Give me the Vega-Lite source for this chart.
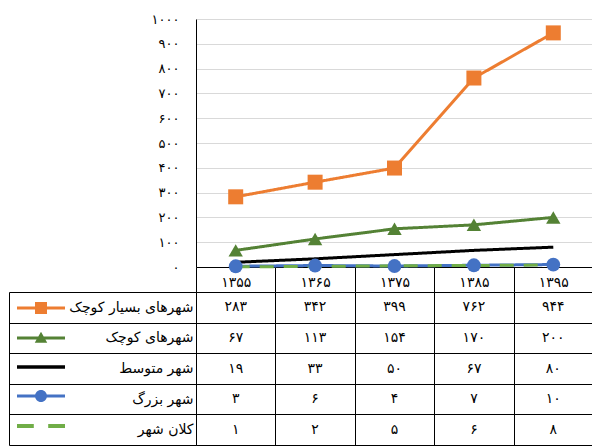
{
  "$schema": "https://vega.github.io/schema/vega-lite/v6.json",
  "padding": {"left": 8, "top": 13, "right": 0, "bottom": 0},
  "bounds": "flush",
  "spacing": 25,
  "config": {
    "locale": {"number": {"decimal": ".", "thousands": ",", "grouping": [3], "currency": ["", ""], "numerals": ["۰","۱","۲","۳","۴","۵","۶","۷","۸","۹"]}},
    "view": {"stroke": null},
    "font": "DejaVu Sans"
  },
  "datasets": {
    "table": [
      {"series": "شهرهای بسیار کوچک", "year": "۱۳۵۵", "value": 283},
      {"series": "شهرهای بسیار کوچک", "year": "۱۳۶۵", "value": 342},
      {"series": "شهرهای بسیار کوچک", "year": "۱۳۷۵", "value": 399},
      {"series": "شهرهای بسیار کوچک", "year": "۱۳۸۵", "value": 762},
      {"series": "شهرهای بسیار کوچک", "year": "۱۳۹۵", "value": 944},
      {"series": "شهرهای کوچک", "year": "۱۳۵۵", "value": 67},
      {"series": "شهرهای کوچک", "year": "۱۳۶۵", "value": 113},
      {"series": "شهرهای کوچک", "year": "۱۳۷۵", "value": 154},
      {"series": "شهرهای کوچک", "year": "۱۳۸۵", "value": 170},
      {"series": "شهرهای کوچک", "year": "۱۳۹۵", "value": 200},
      {"series": "شهر متوسط", "year": "۱۳۵۵", "value": 19},
      {"series": "شهر متوسط", "year": "۱۳۶۵", "value": 33},
      {"series": "شهر متوسط", "year": "۱۳۷۵", "value": 50},
      {"series": "شهر متوسط", "year": "۱۳۸۵", "value": 67},
      {"series": "شهر متوسط", "year": "۱۳۹۵", "value": 80},
      {"series": "شهر بزرگ", "year": "۱۳۵۵", "value": 3},
      {"series": "شهر بزرگ", "year": "۱۳۶۵", "value": 6},
      {"series": "شهر بزرگ", "year": "۱۳۷۵", "value": 4},
      {"series": "شهر بزرگ", "year": "۱۳۸۵", "value": 7},
      {"series": "شهر بزرگ", "year": "۱۳۹۵", "value": 10},
      {"series": "کلان شهر", "year": "۱۳۵۵", "value": 1},
      {"series": "کلان شهر", "year": "۱۳۶۵", "value": 2},
      {"series": "کلان شهر", "year": "۱۳۷۵", "value": 5},
      {"series": "کلان شهر", "year": "۱۳۸۵", "value": 6},
      {"series": "کلان شهر", "year": "۱۳۹۵", "value": 8}
    ]
  },
  "resolve": {"scale": {"color": "independent", "shape": "independent", "size": "independent", "strokeDash": "independent"}, "legend": {"color": "independent", "shape": "independent"}},
  "vconcat": [
    {
      "width": 397,
      "height": 248,
      "data": {"name": "table"},
      "encoding": {
        "x": {"field": "year", "type": "ordinal", "bandPosition": 0.5,
          "scale": {"type": "band", "paddingInner": 0, "paddingOuter": 0, "domain": ["۱۳۵۵","۱۳۶۵","۱۳۷۵","۱۳۸۵","۱۳۹۵"]},
          "axis": {"title": null, "orient": "bottom", "tickBand": "extent", "tickSize": 25, "tickColor": "#000", "domainColor": "#000", "labelAngle": 0, "labelBaseline": "middle", "labelPadding": -10, "labelFontSize": 14, "labelColor": "#000", "grid": false}},
        "y": {"field": "value", "type": "quantitative",
          "scale": {"domain": [0, 1000], "nice": false},
          "axis": {"title": null, "values": [0,100,200,300,400,500,600,700,800,900,1000], "format": "d", "ticks": false, "domain": true, "domainColor": "#000", "grid": true, "gridColor": "#D9D9D9", "labelPadding": 17, "labelFontSize": 13, "labelColor": "#000"}},
        "color": {"field": "series", "type": "nominal",
          "scale": {"domain": ["شهرهای بسیار کوچک","شهرهای کوچک","شهر متوسط","شهر بزرگ","کلان شهر"], "range": ["#ED7D31","#548235","#000000","#4472C4","#70AD47"]},
          "legend": null}
      },
      "layer": [
        {
          "mark": {"type": "line", "strokeWidth": 3},
          "encoding": {
            "strokeDash": {"field": "series", "type": "nominal",
              "scale": {"domain": ["شهرهای بسیار کوچک","شهرهای کوچک","شهر متوسط","شهر بزرگ","کلان شهر"], "range": [[1,0],[1,0],[1,0],[1,0],[14,10]]},
              "legend": null}
          }
        },
        {
          "transform": [{"filter": {"field": "series", "oneOf": ["شهرهای بسیار کوچک","شهرهای کوچک","شهر بزرگ"]}}],
          "mark": {"type": "point", "filled": true, "opacity": 1},
          "encoding": {
            "shape": {"field": "series", "type": "nominal",
              "scale": {"domain": ["شهرهای بسیار کوچک","شهرهای کوچک","شهر بزرگ"], "range": ["square","triangle-up","circle"]},
              "legend": null},
            "size": {"field": "series", "type": "nominal",
              "scale": {"domain": ["شهرهای بسیار کوچک","شهرهای کوچک","شهر بزرگ"], "range": [225, 190, 110]},
              "legend": null}
          }
        }
      ]
    },
    {
      "width": 397,
      "height": 153,
      "data": {"name": "table"},
      "layer": [
        {
          "mark": {"type": "text", "fontSize": 14, "color": "#000"},
          "encoding": {
            "x": {"field": "year", "type": "ordinal", "bandPosition": 0.5,
              "scale": {"type": "band", "paddingInner": 0, "paddingOuter": 0, "domain": ["۱۳۵۵","۱۳۶۵","۱۳۷۵","۱۳۸۵","۱۳۹۵"]},
              "axis": {"title": null, "orient": "top", "grid": true, "gridColor": "#000", "gridOpacity": 1, "tickBand": "extent", "labels": false, "ticks": false, "domain": false}},
            "y": {"field": "series", "type": "nominal", "bandPosition": 0.5,
              "scale": {"type": "band", "paddingInner": 0, "paddingOuter": 0, "domain": ["شهرهای بسیار کوچک","شهرهای کوچک","شهر متوسط","شهر بزرگ","کلان شهر"]},
              "axis": {"title": null, "orient": "left", "grid": true, "gridColor": "#000", "gridOpacity": 1, "tickBand": "extent", "tickSize": 187, "tickColor": "#000", "domain": true, "domainColor": "#000", "labelPadding": -184, "labelFontSize": 14, "labelColor": "#000", "labelLimit": 200}},
            "text": {"field": "value", "type": "quantitative", "format": "d"}
          }
        },
        {
          "transform": [{"filter": "false"}],
          "mark": {"type": "point", "filled": true},
          "encoding": {
            "y": {"field": "series", "type": "nominal",
              "axis": {"title": null, "orient": "left", "offset": 187, "domain": true, "domainColor": "#000", "labels": false, "ticks": false, "grid": false}},
            "color": {"field": "series", "type": "nominal",
              "scale": {"domain": ["شهرهای بسیار کوچک","شهرهای کوچک","شهر متوسط","شهر بزرگ","کلان شهر"], "range": ["#ED7D31","#548235","#000000","#4472C4","#70AD47"]},
              "legend": {"orient": "none", "legendX": -179, "legendY": -8, "title": null, "labelExpr": "''", "symbolSize": 2304, "rowPadding": 0, "symbolStrokeWidth": 0, "symbolOpacity": 1, "padding": 0}},
            "shape": {"field": "series", "type": "nominal",
              "scale": {"domain": ["شهرهای بسیار کوچک","شهرهای کوچک","شهر متوسط","شهر بزرگ","کلان شهر"],
                "range": [
                  "M-1,-0.065H1V0.065H-1Z M-0.25,-0.25H0.25V0.25H-0.25Z",
                  "M-1,-0.065H1V0.065H-1Z M-0.26,0.2L0,-0.26L0.26,0.2Z",
                  "M-1,-0.07H1V0.07H-1Z",
                  "M-1,-0.065H1V0.065H-1Z M-0.25,0A0.25,0.25 0 1,1 0.25,0A0.25,0.25 0 1,1 -0.25,0Z",
                  "M-1,-0.08H-0.3V0.08H-1Z M0.3,-0.08H1V0.08H0.3Z"
                ]},
              "legend": {"orient": "none", "legendX": -179, "legendY": -8, "title": null, "labelExpr": "''", "symbolSize": 2304, "rowPadding": 0, "symbolStrokeWidth": 0, "symbolOpacity": 1, "padding": 0}}
          }
        }
      ],
      "resolve": {"axis": {"y": "independent"}}
    }
  ]
}
